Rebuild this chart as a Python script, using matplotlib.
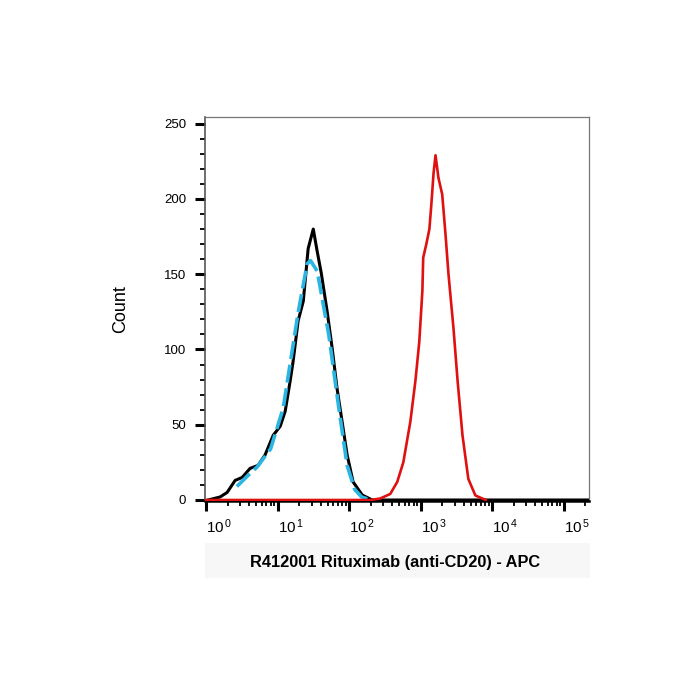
import matplotlib
matplotlib.use("Agg")
import matplotlib.pyplot as plt
from matplotlib.patches import Rectangle
from matplotlib.ticker import LogLocator, FixedLocator, NullFormatter

plt.rcParams['font.family'] = ['Liberation Sans', 'DejaVu Sans']
plt.rcParams['mathtext.fontset'] = 'custom'
plt.rcParams['mathtext.rm'] = 'Liberation Sans'

# black: unstained / isotype control
black_x = [1.07, 1.57, 1.97, 2.55, 3.2, 4.13, 5.35, 6.7, 8.7, 10.9, 12.8, 15.0, 16.5,
           19.4, 22.9, 26.8, 31.6, 35.9, 40.8, 49.5, 58, 68, 80, 94, 114, 153, 211,
           1000, 10000, 100000, 230000]
black_y = [0, 2, 5, 13, 15, 21, 23, 30, 43, 49, 59, 79, 92,
           119, 132, 167, 180, 165, 151, 125, 101, 74, 52, 30, 12, 3.3, 0,
           0, 0, 0, 0]

# cyan dashed
cyan_x = [2.7, 4.0, 5.2, 8.0, 12.0, 19.5, 26.0, 29.0, 35.9, 52, 72, 94, 120, 150, 200]
cyan_y = [9, 17, 22, 34, 61, 125, 157, 159, 152, 110, 61, 23, 7, 2, 0]

# red: Rituximab APC
red_x = [1.0, 100, 200, 273, 377, 472, 574, 720, 847, 960, 1061, 1090, 1205, 1330, 1420,
         1520, 1620, 1780, 2010, 2230, 2460, 2890, 3300, 3860, 4660, 5850, 8160]
red_y = [0, 0, 0, 1, 4, 12, 25, 52, 79, 105, 139, 161, 170, 180, 197,
         217, 229, 214, 203, 177, 150, 114, 79, 43, 14, 3, 0]

x_ticks = [1, 10, 100, 1000, 10000, 100000]
x_labels = [r'$\mathregular{10^{\,%d}}$' % i for i in range(6)]
y_ticks = [0, 50, 100, 150, 200, 250]

fig = plt.figure(figsize=(7, 7), dpi=100)
ax = fig.add_axes([0.293, 0.284, 0.549, 0.549])

ax.plot(black_x, black_y, color='black', lw=2.2, zorder=3)
ax.plot(cyan_x, cyan_y, color='#2bb5e3', lw=2.6, dashes=(5, 1.6), zorder=4)
ax.plot(red_x, red_y, color='#e01010', lw=1.9, zorder=5)

ax.set_xscale('log')
ax.set_xlim(0.97, 2.3e5)
ax.set_ylim(-0.8, 254.5)

ax.xaxis.set_major_locator(FixedLocator(x_ticks))
ax.set_xticklabels(x_labels, fontsize=11)
ax.xaxis.set_minor_locator(LogLocator(base=10, subs=range(2, 10), numticks=20))
ax.xaxis.set_minor_formatter(NullFormatter())
for lab in ax.get_xticklabels():
    lab.set_horizontalalignment('left')

ax.set_yticks(y_ticks)
ax.set_yticklabels([str(v) for v in y_ticks], fontsize=9.5)
ax.set_yticks(range(0, 251, 10), minor=True)

ax.tick_params(which='major', direction='out', length=7.5, width=2.2, color='black', pad=6)
ax.tick_params(which='minor', direction='out', length=3.8, width=1.3, color='black')
ax.tick_params(axis='x', which='major', pad=4)

ax.spines['left'].set_color('#555555')
ax.spines['left'].set_linewidth(1.2)
ax.spines['bottom'].set_color('black')
ax.spines['bottom'].set_linewidth(1.8)
for s in ['top', 'right']:
    ax.spines[s].set_color('#777777')
    ax.spines[s].set_linewidth(0.9)

fig.text(0.173, 0.558, 'Count', rotation=90, fontsize=13, ha='center', va='center')

fig.patches.append(Rectangle((0.293, 0.174), 0.55, 0.05, transform=fig.transFigure,
                             facecolor='#f7f7f7', edgecolor='none', zorder=0))
fig.text(0.564, 0.196, 'R412001 Rituximab (anti-CD20) - APC', fontsize=11.8,
         fontweight='bold', ha='center', va='center')

fig.savefig('out.png', dpi=100, facecolor='white')
